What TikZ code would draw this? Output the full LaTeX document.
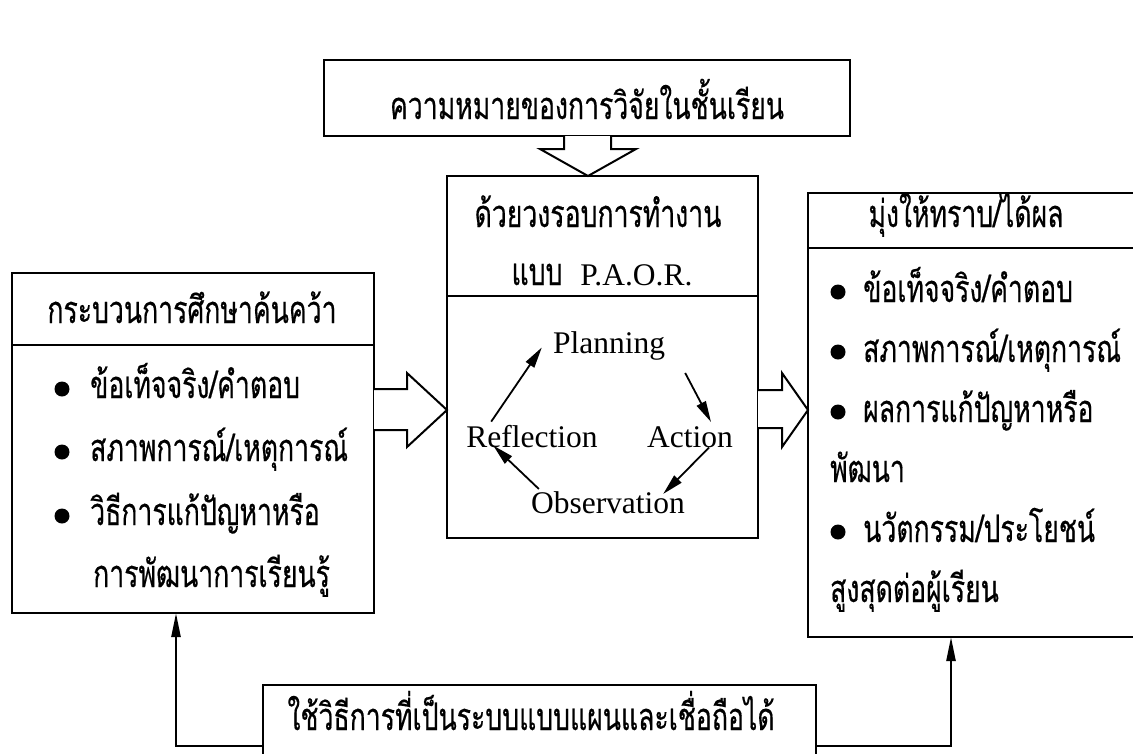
\documentclass[tikz,border=0pt]{standalone}
\usepackage{fontspec}
\setmainfont{Liberation Serif}
\newfontfamily\thaifont[Script=Thai,FakeStretch=0.7,FakeBold=0.4]{Loma}
\usetikzlibrary{arrows.meta,calc}
\begin{document}
\begin{tikzpicture}[x=1pt,y=-1pt,
  box/.style={draw, line width=2.6pt, inner sep=0pt, outer sep=0pt},
  th/.style={font={\thaifont\fontsize{38}{44}\selectfont}, inner sep=0pt, anchor=base},
  thw/.style={th, anchor=base west},
  en/.style={font={\fontsize{31.5}{38}\selectfont}, inner sep=0pt, anchor=base},
  blockarrow/.style={draw, line width=2pt, fill=white, line join=miter},
  sep/.style={line width=2.6pt},
  cyc/.style={line width=1.8pt, -{Triangle[length=21pt,width=10pt]}},
  up/.style={line width=2.4pt, -{Triangle[length=24pt,width=9pt]}},
  dot/.style={circle, fill, inner sep=0pt, minimum size=15pt}
]
\useasboundingbox (0,0) rectangle (1133,753);
\fill[white] (0,0) rectangle (1133,753);
\clip (0,0) rectangle (1133,753);

% boxes
\node[box, minimum width=526pt, minimum height=76pt] (topbox) at (587,98) {};
\node[box, minimum width=311pt, minimum height=362pt] (midbox) at (602.5,357) {};
\node[box, minimum width=362pt, minimum height=340pt] (leftbox) at (193,443) {};
\node[box, minimum width=342pt, minimum height=444pt] (rightbox) at (979,415) {};
\node[box, minimum width=553pt, minimum height=115pt] (botbox) at (539.5,742.5) {};

% header separators
\draw[sep] (midbox.west |- 0,296) -- (midbox.east |- 0,296);
\draw[sep] (leftbox.west |- 0,345) -- (leftbox.east |- 0,345);
\draw[sep] (rightbox.west |- 0,248) -- (rightbox.east |- 0,248);

% texts
\node[th] (ttop) at (587,119) {ความหมายของการวิจัยในชั้นเรียน};
\node[th] (tmid1) at (598,227) {ด้วยวงรอบการทำงาน};
\node[th] (tmid2) at (602,285) {แบบ\ \ {\rmfamily\fontsize{31.5}{38}\selectfont P.A.O.R.}};
\node[th] (tleft) at (192,323) {กระบวนการศึกษาค้นคว้า};
\node[th] (tright) at (966,227) {มุ่งให้ทราบ/ได้ผล};
\node[th] (tbot) at (531,730) {ใช้วิธีการที่เป็นระบบแบบแผนและเชื่อถือได้};

% left list
\node[dot] (ld1) at (62,389) {};
\node[thw] (l1) at (90,398) {ข้อเท็จจริง/คำตอบ};
\node[dot] (ld2) at (62,452) {};
\node[thw] (l2) at (90,461) {สภาพการณ์/เหตุการณ์};
\node[dot] (ld3) at (62,516) {};
\node[thw] (l3) at (90,525) {วิธีการแก้ปัญหาหรือ};
\node[thw] (l4) at (93,587) {การพัฒนาการเรียนรู้};

% right list
\node[dot] (rd1) at (838,292) {};
\node[thw] (r1) at (863,302) {ข้อเท็จจริง/คำตอบ};
\node[dot] (rd2) at (838,352) {};
\node[thw] (r2) at (863,362) {สภาพการณ์/เหตุการณ์};
\node[dot] (rd3) at (838,412) {};
\node[thw] (r3) at (863,422) {ผลการแก้ปัญหาหรือ};
\node[thw] (r4) at (830,482) {พัฒนา};
\node[dot] (rd5) at (838,532) {};
\node[thw] (r5) at (863,542) {นวัตกรรม/ประโยชน์};
\node[thw] (r6) at (830,602) {สูงสุดต่อผู้เรียน};

% cycle
\node[en] (plan) at (609,353) {Planning};
\node[en] (refl) at (532,447) {Reflection};
\node[en] (act) at (690,447) {Action};
\node[en] (obs) at (608,513) {Observation};
\draw[cyc] ($(refl.north west)+(25,-3)$) -- ($(plan.west)+(-11,2)$);
\draw[cyc] ($(plan.south east)+(20,13)$) -- ($(act.north)+(21,-4)$);
\draw[cyc] ($(act.south)+(19,0)$) -- ($(obs.north east)+(-22,3)$);
\draw[cyc] ($(obs.north west)+(8,-2)$) -- ($(refl.south west)+(27,-2)$);

% block arrows
\draw[blockarrow] ($(topbox.south)+(-23,0)$) -- ++(0,13) -- ++(-24,0) -- ($(midbox.north -| topbox.south)+(1,0)$) -- ($(topbox.south)+(49,13)$) -- ++(-25,0) -- ++(0,-13);
\draw[blockarrow] (leftbox.east |- 0,389) -- (407,389) -- (407,373) -- (midbox.west |- 0,410) -- (407,447) -- (407,430) -- (leftbox.east |- 0,430);
\draw[blockarrow] (midbox.east |- 0,390) -- (782,390) -- (782,373) -- (rightbox.west |- 0,410) -- (782,447) -- (782,428) -- (midbox.east |- 0,428);

% feedback arrows
\draw[up] ($(botbox.north west)+(0,61)$) -| ($(leftbox.south west)+(164,0)$);
\draw[up] ($(botbox.north east)+(0,61)$) -| ($(rightbox.south west)+(143,0)$);
\end{tikzpicture}
\end{document}
